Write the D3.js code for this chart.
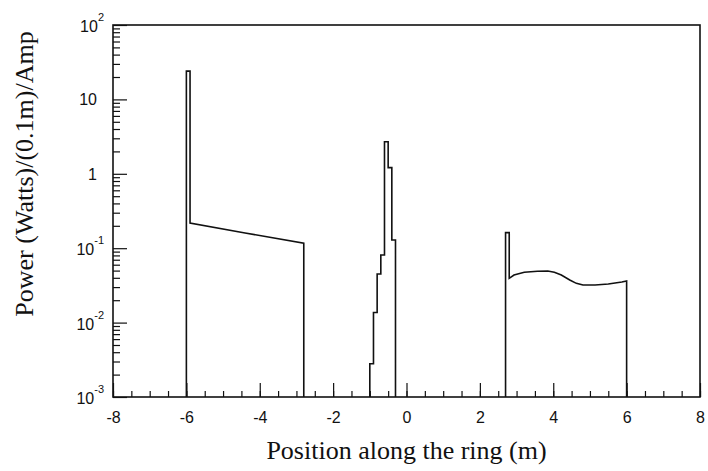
<!DOCTYPE html>
<html>
<head>
<meta charset="utf-8">
<script src="https://cdn.jsdelivr.net/npm/d3@7"></script>
<style>
  html, body { margin: 0; padding: 0; background: #fff; }
  svg { display: block; }
</style>
</head>
<body>
<svg id="chart" width="708" height="471"></svg>
<script>
// ---------------- data ----------------
const xDomain = [-8, 8];
const yDomain = [1e-3, 1e2];
const xTickValues = [-8, -6, -4, -2, 0, 2, 4, 6, 8];
const xMinorTickValues = d3.range(-8, 8.01, 0.5);
const yDecadeExponents = [-3, -2, -1, 0, 1, 2];

// left component: narrow spike then slowly falling plateau
const leftSpikeX = [-6.0, -5.9];
const leftSpikePower = 24;
const leftSlopeX = [-5.9, -4.4, -2.8];
const leftSlopePower = [0.218, 0.16, 0.117];

// central component: histogram, 0.1 m bins
const peakBinEdges = [-1.0, -0.9, -0.8, -0.7, -0.6, -0.5, -0.4, -0.3];
const peakPower = [0.0028, 0.0137, 0.045, 0.081, 2.7, 1.21, 0.129];

// right component: narrow spike then wavy plateau
const rightSpikeX = [2.7, 2.8];
const rightSpikePower = 0.162;
const rightCurveX = [2.8, 2.93, 3.21, 3.57, 3.85, 4.03, 4.22, 4.45, 4.63, 4.81, 5.14, 5.5, 5.87, 6.0];
const rightCurvePower = [0.0394, 0.0436, 0.0474, 0.0489, 0.0494, 0.0474, 0.0436, 0.0374, 0.0337, 0.032, 0.032, 0.033, 0.0352, 0.0362];

const xTitle = "Position along the ring (m)";
const yTitle = "Power (Watts)/(0.1m)/Amp";

// ---------------- layout ----------------
const M = { left: 113, right: 700, top: 25, bottom: 397 };
const svg = d3.select("#chart");
const x = d3.scaleLinear().domain(xDomain).range([M.left, M.right]);
const y = d3.scaleLog().domain(yDomain).range([M.bottom, M.top]);
const floor = yDomain[0];

const tickFont = "'Liberation Sans', Arial, sans-serif";
const titleFont = "'Liberation Serif', 'Times New Roman', serif";

// y minor ticks
const yMinor = [];
yDecadeExponents.slice(0, -1).forEach(e => {
  for (let k = 2; k <= 9; k++) yMinor.push(k * Math.pow(10, e));
});

const gYMinor = svg.append("g").attr("transform", `translate(${M.left},0)`)
  .call(d3.axisLeft(y).tickValues(yMinor).tickSize(-7).tickFormat(""));
const gYMajor = svg.append("g").attr("transform", `translate(${M.left},0)`)
  .call(d3.axisLeft(y).tickValues(yDecadeExponents.map(e => Math.pow(10, e))).tickSize(-14).tickFormat(""));
const gXMinor = svg.append("g").attr("transform", `translate(0,${M.bottom})`)
  .call(d3.axisBottom(x).tickValues(xMinorTickValues).tickSize(-6).tickFormat(""));
const gXMajor = svg.append("g").attr("transform", `translate(0,${M.bottom})`)
  .call(d3.axisBottom(x).tickValues(xTickValues).tickSize(-14).tickPadding(15)
    .tickFormat(d => d3.format("d")(d).replace("−", "-")));

[gYMinor, gYMajor, gXMinor, gXMajor].forEach(g => {
  g.select(".domain").remove();
  g.selectAll("line").attr("stroke", "#111").attr("stroke-width", 1.2);
});
gXMajor.selectAll("text")
  .attr("fill", "#111").attr("font-family", tickFont).attr("font-size", 16);

// y tick labels (10^n)
yDecadeExponents.forEach(e => {
  const yy = y(Math.pow(10, e));
  if (e === 0 || e === 1) {
    svg.append("text")
      .attr("x", 97).attr("y", yy + 6)
      .attr("text-anchor", "end")
      .attr("font-family", tickFont).attr("font-size", 16).attr("fill", "#111")
      .text(e === 0 ? "1" : "10");
  } else {
    const t = svg.append("text")
      .attr("x", 104).attr("y", yy + 7)
      .attr("text-anchor", "end")
      .attr("font-family", tickFont).attr("font-size", 16).attr("fill", "#111");
    t.append("tspan").text("10");
    t.append("tspan").attr("dy", -11).attr("font-size", 11).text(String(e));
  }
});

// frame
svg.append("rect")
  .attr("x", M.left).attr("y", M.top)
  .attr("width", M.right - M.left).attr("height", M.bottom - M.top)
  .attr("fill", "none").attr("stroke", "#111").attr("stroke-width", 1.6);

// ---------------- data lines ----------------
const line = d3.line().x(d => x(d[0])).y(d => y(d[1]));
const lineStep = d3.line().x(d => x(d[0])).y(d => y(d[1])).curve(d3.curveStepAfter);

const leftPts = [
  [leftSpikeX[0], floor], [leftSpikeX[0], leftSpikePower],
  [leftSpikeX[1], leftSpikePower],
  ...leftSlopeX.map((v, i) => [v, leftSlopePower[i]]),
  [leftSlopeX[leftSlopeX.length - 1], floor]
];

const peakPts = [[peakBinEdges[0], floor]]
  .concat(peakPower.map((v, i) => [peakBinEdges[i], v]))
  .concat([[peakBinEdges[peakBinEdges.length - 1], floor]]);

const rightPts = [
  [rightSpikeX[0], floor], [rightSpikeX[0], rightSpikePower],
  [rightSpikeX[1], rightSpikePower],
  ...rightCurveX.map((v, i) => [v, rightCurvePower[i]]),
  [rightCurveX[rightCurveX.length - 1], floor]
];

const gData = svg.append("g")
  .attr("fill", "none").attr("stroke", "#111").attr("stroke-width", 1.6)
  .attr("stroke-linejoin", "miter");
gData.append("path").attr("d", line(leftPts));
gData.append("path").attr("d", lineStep(peakPts));
gData.append("path").attr("d", line(rightPts));

// ---------------- titles ----------------
svg.append("text")
  .attr("x", (M.left + M.right) / 2).attr("y", 459)
  .attr("text-anchor", "middle")
  .attr("font-family", titleFont).attr("font-size", 26).attr("fill", "#111")
  .text(xTitle);

svg.append("text")
  .attr("transform", `translate(33,174) rotate(-90)`)
  .attr("text-anchor", "middle")
  .attr("font-family", titleFont).attr("font-size", 26).attr("fill", "#111")
  .text(yTitle);
</script>
</body>
</html>
